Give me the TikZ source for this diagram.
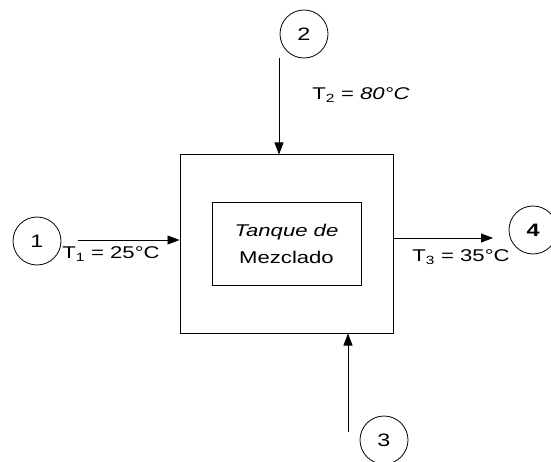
\documentclass[tikz,border=0pt]{standalone}
\usepackage{fontspec}
\setmainfont{Liberation Sans}[FakeStretch=1.3]
\usetikzlibrary{arrows.meta}

\begin{document}
\begin{tikzpicture}[x=1pt, y=-1pt, >={Triangle[length=12pt, width=9pt]}]

\tikzset{
  stream/.style={draw, circle, line width=0.8pt, minimum size=48pt, inner sep=0pt,
    font=\fontsize{18}{20}\selectfont},
  flow/.style={->, line width=0.8pt},
  tlabel/.style={font=\fontsize{17}{19}\selectfont, inner sep=0pt}
}

\useasboundingbox (0,0) rectangle (551,462);

% tanque
\node[draw, line width=1pt, minimum width=213pt, minimum height=178pt] (tank) at (286.5,244) {};
\node[draw, line width=1pt, minimum width=149pt, minimum height=82pt, align=center,
  font=\fontsize{17}{27}\selectfont] (inner) at (286.5,244) {\textit{Tanque de}\\Mezclado};

% corrientes
\node[stream] (s1) at (37,241) {1};
\node[stream] (s2) at (304,34) {2};
\node[stream] (s3) at (384,440) {3};
\node[stream] (s4) at (533,230) {\textbf{4}};

\coordinate (a1) at (78,240);
\coordinate (a2) at (279,58);
\coordinate (a3) at (348,432);
\coordinate (a4) at (493,238);

\draw[flow] (a1) -- (tank.west |- a1);
\draw[flow] (a2) -- (a2 |- tank.north);
\draw[flow] (a3) -- (a3 |- tank.south);
\draw[flow] (tank.east |- a4) -- (a4);

% temperaturas
\node[tlabel] (t1) at (111,254) {T\textsubscript{1} = 25°C};
\node[tlabel] (t2) at (361,95) {T\textsubscript{2} = \textit{80°C}};
\node[tlabel] (t3) at (461,257) {T\textsubscript{3} = 35°C};

\end{tikzpicture}
\end{document}
